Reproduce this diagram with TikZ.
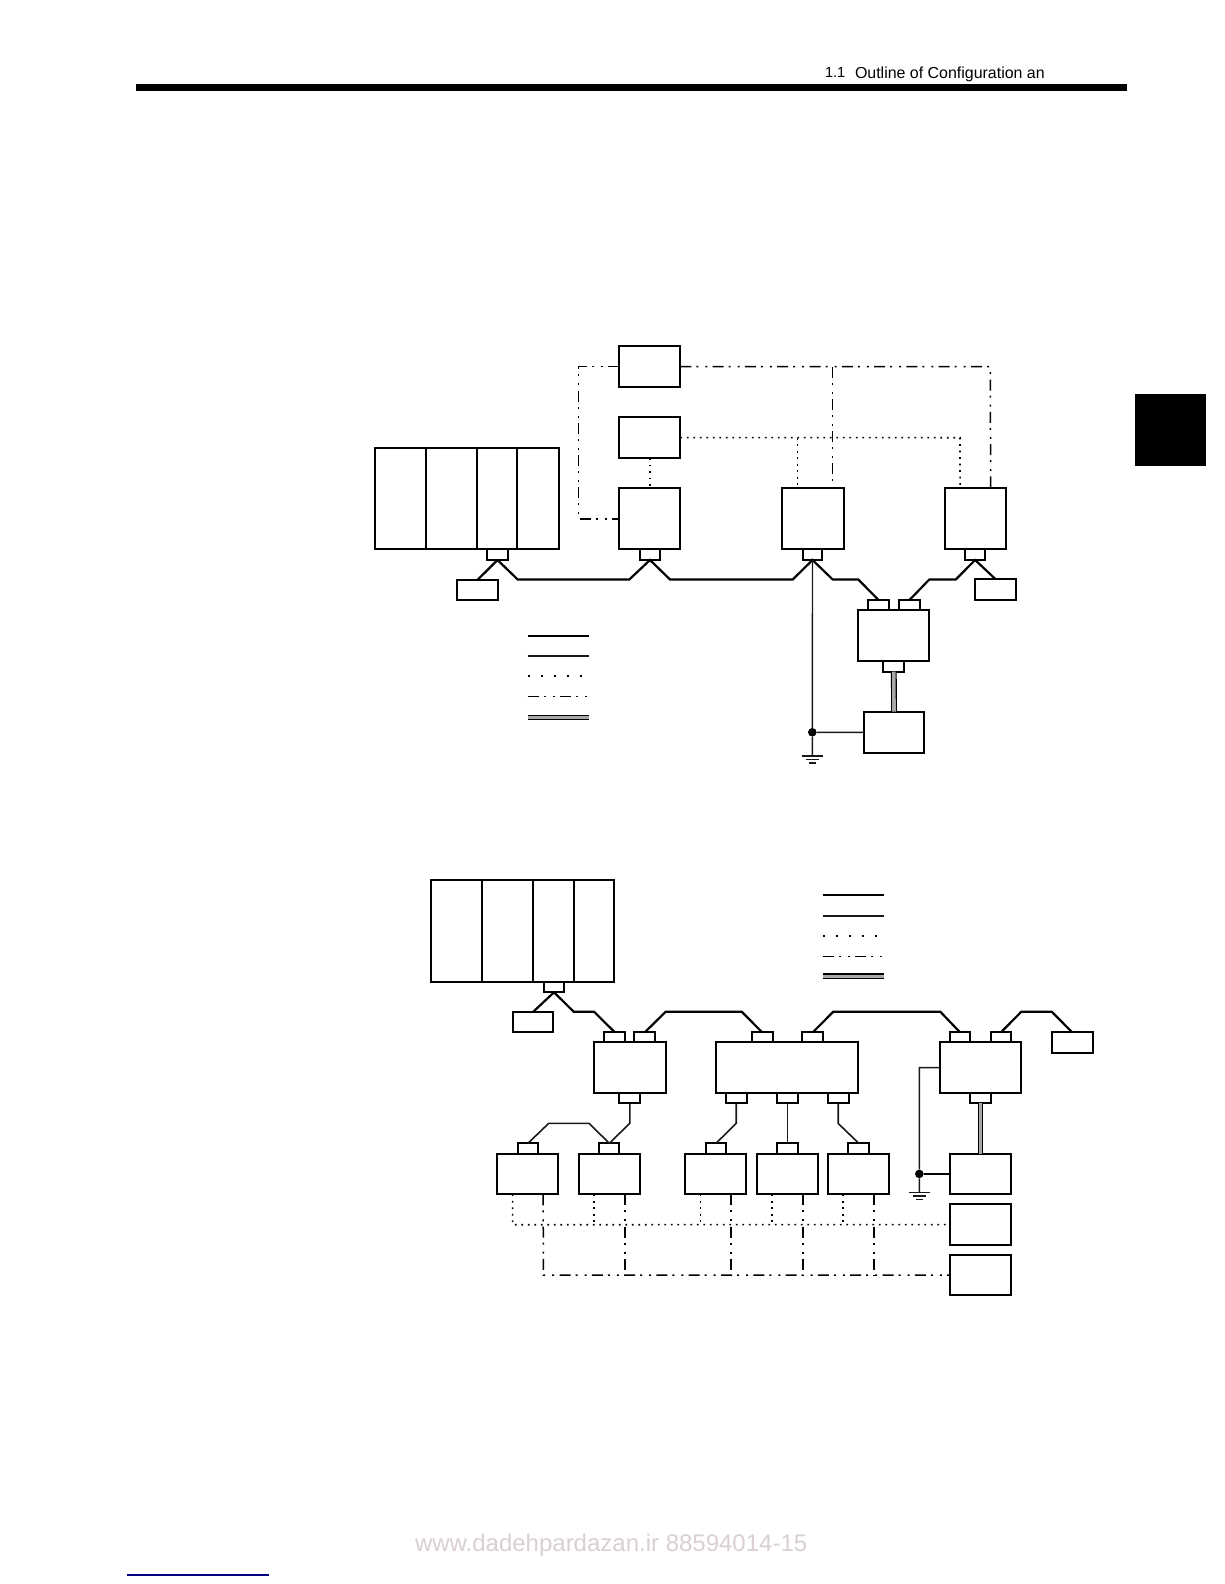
\documentclass[tikz,border=0pt]{standalone}
\usepackage{fontspec}
\setmainfont{Liberation Sans}
\definecolor{wmark}{HTML}{D9CFCF}
\definecolor{linkblue}{HTML}{000080}
\definecolor{hatchgray}{HTML}{A8A8A8}
\tikzset{
  box/.style={draw=black,line width=1.7pt,fill=white,inner sep=0pt,outer sep=0pt},
  cable/.style={draw=black,line width=2.2pt,line join=miter},
  thincable/.style={draw=black!90,line width=1.6pt,line join=miter},
  earth/.style={draw=black!90,line width=1.4pt},
  dotline/.style={draw=black,line width=1.6pt,dash pattern=on 1.8pt off 4.7pt},
  legdot/.style={draw=black,line width=2pt,dash pattern=on 2pt off 11pt},
  dashdot/.style={draw=black,line width=1.5pt,dash pattern=on 11pt off 5pt on 2pt off 7pt on 2pt off 5.3pt},
  hatched/.style={draw=black,line width=1.1pt,double=hatchgray,double distance=3.6pt},
  textlabel/.style={anchor=base west,inner sep=0pt,outer sep=0pt,text=black}
}
% name, x1, y1, x2, y2
\newcommand\bx[5]{\node[box,minimum width={(#4-#2)*1pt},minimum height={(#5-#3)*1pt}] (#1) at ({(#2+#4)/2},{(#3+#5)/2}) {};}
\begin{document}
\begin{tikzpicture}[x=1pt,y=-1pt]
\useasboundingbox (0,0) rectangle (1224,1584);
% page furniture
\fill[black] (136,84) rectangle (1127,90.7);
\fill[black] (1135,394) rectangle (1206,466);
\fill[linkblue] (127,1574.4) rectangle (269,1575.6);
\node[textlabel,font=\fontsize{14.6}{16}\selectfont] (sec) at (825,78) {1.1};
\node[textlabel,font=\fontsize{15.95}{18}\selectfont] (title) at (855,79) {Outline of Configuration an};
\node[textlabel,text=wmark,font=\fontsize{24}{26}\selectfont] (wm) at (415,1551.5) {www.dadehpardazan.ir 88594014-15};

% ========== upper diagram ==========
\bx{plcA}{375}{447.7}{558.7}{549.3}
\coordinate (a1t) at (426,447.7); \coordinate (a1b) at (426,549.3);
\coordinate (a2t) at (477.3,447.7); \coordinate (a2b) at (477.3,549.3);
\coordinate (a3t) at (517.3,447.7); \coordinate (a3b) at (517.3,549.3);
\draw[line width=1.7pt] (a1t) -- (a1b) (a2t) -- (a2b) (a3t) -- (a3b);
\bx{plcAc}{487}{549.3}{508}{560}
\bx{termA}{456.7}{579.7}{497.7}{600.3}
\bx{sw}{619.3}{345.7}{680.3}{387.3}
\bx{rt}{619.3}{417.3}{680.3}{458}
\bx{dA}{619.3}{488.3}{680.3}{549.3}
\bx{dAc}{639.7}{549.3}{660.3}{560}
\bx{dM}{781.7}{488.3}{843.7}{549.3}
\bx{dMc}{802.7}{549.3}{822.3}{560}
\bx{dR}{944.7}{488.3}{1006}{549.3}
\bx{dRc}{965}{549.3}{985.3}{560}
\bx{termB}{975}{579.3}{1016.3}{600.3}
\bx{amp}{858.3}{610.3}{929.3}{661.3}
\bx{ampL}{868.3}{600.3}{889.3}{610.3}
\bx{ampR}{898.7}{600.3}{919.7}{610.3}
\bx{ampB}{883.3}{661.3}{904.3}{671.7}
\bx{mot}{863.7}{711.7}{924.3}{753}

% cables
\draw[cable] (plcAc.south) -- ([xshift=-20pt]termA.north east) ;
\draw[cable] (plcAc.south) -- (517.7,579.5) -- (629.3,579.5) -- (dAc.south) -- (670,579.5) -- (792.7,579.5) -- (dMc.south) -- (832.7,579.5) -- (858.3,579.5) -- (ampL.north);
\draw[cable] (ampR.north) -- (929.3,579.5) -- (955.7,579.5) -- (dRc.south) -- (termB.north);
\draw[hatched] (ampB.south) -- (mot.north);
% earth
\node[circle,fill=black,inner sep=0pt,minimum size=8.6pt] (gndA) at (812.3,732.3) {};
\coordinate (earthA) at (812.3,756);
\draw[earth] (dMc.south) -- (gndA) -- (earthA);
\draw[earth] (gndA) -- (mot.west);
\draw[earth] ([xshift=-10.2pt]earthA) -- ([xshift=10.2pt]earthA);
\draw[earth] ([shift={(-6.8pt,-3.4pt)}]earthA) -- ([shift={(6.8pt,-3.4pt)}]earthA);
\draw[earth] ([shift={(-3.4pt,-6.8pt)}]earthA) -- ([shift={(3.4pt,-6.8pt)}]earthA);
% signal
\draw[dashdot] (sw.west) -- (578.7,366.5) -- (578.7,518.8) -- (dA.west);
\draw[dashdot] (sw.east) -- (990.3,366.5) -- ([xshift=15.3pt]dR.north);
\coordinate (swTee) at (832.7,366.5);
\draw[dashdot] (swTee) -- ([xshift=20pt]dM.north);
\draw[dotline] (rt.south) -- (dA.north);
\draw[dotline] (rt.east) -- (960,437.7) -- ([xshift=-15.3pt]dR.north);
\coordinate (rtTee) at (797.3,437.7);
\draw[dotline] (rtTee) -- ([xshift=-15.4pt]dM.north);
% legend
\coordinate (lA1l) at (527.7,635.7); \coordinate (lA1r) at (589.3,635.7);
\coordinate (lA2l) at (527.7,656); \coordinate (lA2r) at (589.3,656);
\coordinate (lA3l) at (527.7,676.3); \coordinate (lA3r) at (585,676.3);
\coordinate (lA4l) at (527.7,696.7); \coordinate (lA4r) at (589.3,696.7);
\coordinate (lA5l) at (527.7,717.5); \coordinate (lA5r) at (589.3,717.5);
\draw[cable] (lA1l) -- (lA1r);
\draw[thincable] (lA2l) -- (lA2r);
\draw[legdot] (lA3l) -- (lA3r);
\draw[dashdot] (lA4l) -- (lA4r);
\draw[hatched] (lA5l) -- (lA5r);

% ========== lower diagram ==========
\bx{plcB}{431.3}{880.3}{614.3}{982}
\coordinate (b1t) at (482.3,880.3); \coordinate (b1b) at (482.3,982);
\coordinate (b2t) at (533.3,880.3); \coordinate (b2b) at (533.3,982);
\coordinate (b3t) at (574,880.3); \coordinate (b3b) at (574,982);
\draw[line width=1.7pt] (b1t) -- (b1b) (b2t) -- (b2b) (b3t) -- (b3b);
\bx{plcBc}{543.7}{982}{564.3}{992.3}
\bx{termC}{512.7}{1011.7}{553.3}{1032.3}
\bx{uA}{593.7}{1042.3}{665.7}{1093}
\bx{uAt1}{604.3}{1032.3}{625.3}{1042.3}
\bx{uAt2}{634.3}{1032.3}{655.3}{1042.3}
\bx{uAb}{619.3}{1093}{640.3}{1103.3}
\bx{uB}{716.3}{1042.3}{858.3}{1093}
\bx{uBt1}{751.7}{1032.3}{772.7}{1042.3}
\bx{uBt2}{802.3}{1032.3}{823.3}{1042.3}
\bx{uBb1}{725.7}{1093}{746.7}{1103.3}
\bx{uBb2}{777.3}{1093}{797.7}{1103.3}
\bx{uBb3}{827.7}{1093}{848.7}{1103.3}
\bx{uC}{939.7}{1042.3}{1021.3}{1093}
\bx{uCt1}{949.7}{1032.3}{970.3}{1042.3}
\bx{uCt2}{990.7}{1032.3}{1011.3}{1042.3}
\bx{uCb}{970}{1093}{991}{1103.3}
\bx{termD}{1051.7}{1032.3}{1092.7}{1053}
\bx{s1}{497.3}{1153.7}{558.3}{1194.3}
\bx{s1c}{517.7}{1143.3}{538.3}{1153.7}
\bx{s2}{578.7}{1153.7}{640.3}{1194.3}
\bx{s2c}{599.3}{1143.3}{619.3}{1153.7}
\bx{s3}{685.3}{1153.7}{746.3}{1194.3}
\bx{s3c}{705.7}{1143.3}{726.3}{1153.7}
\bx{s4}{756.7}{1153.7}{818.3}{1194.3}
\bx{s4c}{777.3}{1143.3}{797.7}{1153.7}
\bx{s5}{827.7}{1153.7}{889.3}{1194.3}
\bx{s5c}{848.3}{1143.3}{869.3}{1153.7}
\bx{mB}{949.7}{1153.7}{1011.3}{1194.3}
\bx{mC}{949.7}{1204.3}{1011.3}{1245}
\bx{mD}{949.7}{1254.7}{1011.3}{1295.3}

% cables
\draw[cable] (plcBc.south) -- ([xshift=-20pt]termC.north east);
\draw[cable] (plcBc.south) -- (573.7,1011.7) -- (594,1011.7) -- (uAt1.north);
\draw[cable] (uAt2.north) -- (665.7,1011.7) -- (741.7,1011.7) -- (uBt1.north);
\draw[cable] (uBt2.north) -- (833.3,1011.7) -- (940.3,1011.7) -- (uCt1.north);
\draw[cable] (uCt2.north) -- (1021.3,1011.7) -- (1051.7,1011.7) -- (termD.north);
\draw[thincable] (uAb.south) -- (629.8,1123.3) -- (s2c.north);
\draw[thincable] (s1c.north) -- (548.7,1123.3) -- (589,1123.3) -- (s2c.north);
\draw[thincable] (uBb1.south) -- (736.2,1123.3) -- (s3c.north);
\draw[thincable] (uBb2.south) -- (s4c.north);
\draw[thincable] (uBb3.south) -- (838.2,1123.5) -- (s5c.north);
\draw[hatched] (uCb.south) -- (mB.north);
% earth
\node[circle,fill=black,inner sep=0pt,minimum size=8.6pt] (gndB) at (919.3,1173.9) {};
\coordinate (earthB) at (919.3,1192.7);
\draw[earth] (uC.west) -- (919.3,1067.6) -- (gndB) -- (earthB);
\draw[line width=1.8pt] (gndB) -- (mB.west);
\draw[earth] ([xshift=-10.2pt]earthB) -- ([xshift=10.2pt]earthB);
\draw[earth] ([shift={(-6.8pt,-3.4pt)}]earthB) -- ([shift={(6.8pt,-3.4pt)}]earthB);
\draw[earth] ([shift={(-3.4pt,-6.8pt)}]earthB) -- ([shift={(3.4pt,-6.8pt)}]earthB);
% signal buses
\coordinate (busDotL) at (512.7,1224.7);
\coordinate (busDashL) at (543.3,1275);
\draw[dotline] ([xshift=-15.2pt]s1.south) -- (busDotL) -- (mC.west);
\draw[dashdot] ([xshift=15.4pt]s1.south) -- (busDashL) -- (mD.west);
\foreach \n in {s2,s3,s4,s5}{
  \draw[dotline] ([xshift=-15.4pt]\n.south) -- ++(0,30.4);
  \draw[dashdot] ([xshift=15.3pt]\n.south) -- ++(0,80.7);
}
% legend
\coordinate (lB1l) at (822.7,895.3); \coordinate (lB1r) at (884,895.3);
\coordinate (lB2l) at (822.7,915.7); \coordinate (lB2r) at (884,915.7);
\coordinate (lB3l) at (822.7,936); \coordinate (lB3r) at (880,936);
\coordinate (lB4l) at (822.7,956.7); \coordinate (lB4r) at (884,956.7);
\coordinate (lB5l) at (822.7,976.3); \coordinate (lB5r) at (884,976.3);
\draw[cable] (lB1l) -- (lB1r);
\draw[thincable] (lB2l) -- (lB2r);
\draw[legdot] (lB3l) -- (lB3r);
\draw[dashdot] (lB4l) -- (lB4r);
\draw[hatched] (lB5l) -- (lB5r);
\end{tikzpicture}
\end{document}
